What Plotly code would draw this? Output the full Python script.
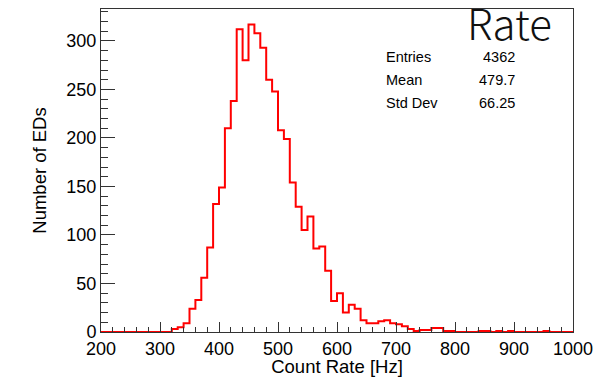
import plotly.graph_objects as go

# Histogram: bins of 10 Hz from 200 to 1000 Hz
bin_low = list(range(200, 1000, 10))
counts = [
    0, 0, 0, 0, 0, 0, 0, 0, 0, 0,          # 200-290
    0, 0, 3, 5, 9, 24, 33, 56, 87, 132,     # 300-390
    149, 210, 238, 312, 280, 317, 308, 293, 260, 248,  # 400-490
    208, 199, 154, 129, 105, 119, 86, 88, 63, 32,      # 500-590
    40, 20, 28, 24, 12, 9, 9, 11, 12, 9,    # 600-690
    8, 6, 3, 1, 2, 2, 4, 4, 1, 1,           # 700-790
    0, 0, 0, 0, 1, 1, 0, 1, 0, 1,           # 800-890
    0, 0, 0, 0, 0, 1, 0, 0, 0, 0,           # 900-990
]
bin_width = 10
x_ticks = [200, 300, 400, 500, 600, 700, 800, 900, 1000]
y_ticks = [0, 50, 100, 150, 200, 250, 300]

stats_labels = ["Entries", "Mean", "Std Dev"]
stats_values = ["4362", "479.7", "66.25"]
title_text = "Rate"

edges = bin_low + [bin_low[-1] + bin_width]
ys = counts + [counts[-1]]

fig = go.Figure()
fig.add_trace(go.Scatter(
    x=edges, y=ys, mode="lines", line=dict(shape="hv", color="#ff0000", width=2),
    hoverinfo="skip", showlegend=False,
))

axis_col = "#333333"
font_main = "Liberation Sans, Arial, Helvetica, sans-serif"

fig.update_layout(
    width=597, height=377,
    margin=dict(l=101, r=24, t=9, b=45, autoexpand=False),
    paper_bgcolor="white", plot_bgcolor="white",
    font=dict(family=font_main, color="#000000", size=17),
    xaxis=dict(
        range=[200, 1000], tickvals=x_ticks, ticktext=[str(v) for v in x_ticks],
        showgrid=False, zeroline=False, showline=True, linecolor=axis_col, linewidth=1,
        mirror=True, ticks="inside", ticklen=10, tickcolor=axis_col, tickwidth=1,
        minor=dict(dtick=20, tick0=200, ticks="inside", ticklen=5, tickcolor=axis_col, showgrid=False),
        tickfont=dict(size=18), automargin=False,
        title=dict(text="Count Rate [Hz]", font=dict(size=18.5), standoff=0),
    ),
    yaxis=dict(
        range=[0, 332.9], tickvals=y_ticks, ticktext=[str(v) for v in y_ticks],
        showgrid=False, zeroline=False, showline=True, linecolor=axis_col, linewidth=1,
        mirror=True, ticks="inside", ticklen=14, tickcolor=axis_col, tickwidth=1,
        minor=dict(dtick=10, tick0=0, ticks="inside", ticklen=7, tickcolor=axis_col, showgrid=False),
        tickfont=dict(size=18), automargin=False,
        title=dict(text="Number of EDs", font=dict(size=18.5), standoff=14),
    ),
)

ys_pos = [0.850, 0.779, 0.708]
for lab, val, yp in zip(stats_labels, stats_values, ys_pos):
    fig.add_annotation(x=0.5996, y=yp, xref="paper", yref="paper", text=lab,
                       showarrow=False, xanchor="left", yanchor="middle",
                       font=dict(size=14.5, family=font_main))
    fig.add_annotation(x=0.881, y=yp, xref="paper", yref="paper", text=val,
                       showarrow=False, xanchor="right", yanchor="middle",
                       font=dict(size=14.5, family=font_main))

fig.add_annotation(x=0.8665, y=1.0, xref="paper", yref="paper", text=title_text,
                   showarrow=False, xanchor="center", yanchor="top", yshift=20,
                   font=dict(size=42, color="#111111", weight=300,
                             family="Noto Sans CJK JP, Noto Sans, sans-serif"))

fig.write_html("out.html")
